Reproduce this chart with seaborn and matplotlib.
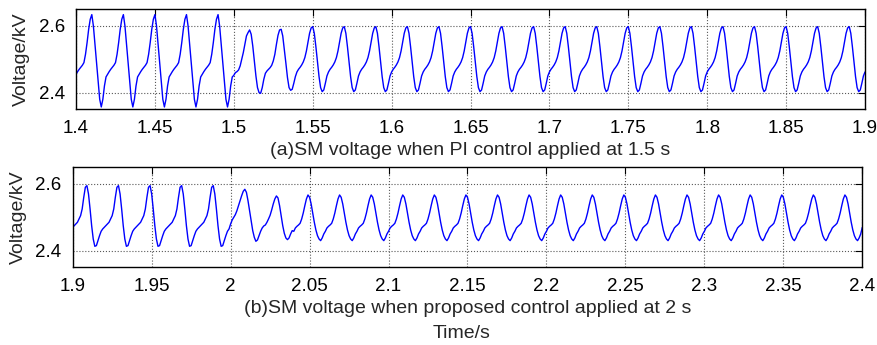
import numpy as np
import pandas as pd
import matplotlib
matplotlib.use("Agg")
import matplotlib.pyplot as plt
import seaborn as sns

# ---------------- data read from the picture (kV, sampled every 1 ms) ----------------
# one 20 ms cycle of each waveform regime
cycle_pre_a = [2.455, 2.463, 2.470, 2.476, 2.482, 2.490, 2.515, 2.550, 2.590, 2.620,
               2.634, 2.600, 2.545, 2.490, 2.435, 2.380, 2.357, 2.380, 2.420, 2.447]
cycle_t1_a = [2.452, 2.460, 2.463, 2.468, 2.480, 2.500, 2.520, 2.545, 2.570, 2.580,
              2.588, 2.575, 2.540, 2.495, 2.450, 2.415, 2.400, 2.398, 2.415, 2.440]
cycle_t2_a = [2.458, 2.465, 2.470, 2.475, 2.482, 2.495, 2.515, 2.545, 2.572, 2.588,
              2.590, 2.570, 2.530, 2.488, 2.445, 2.415, 2.407, 2.410, 2.428, 2.448]
cycle_post_a = [2.462, 2.470, 2.476, 2.483, 2.492, 2.505, 2.525, 2.552, 2.578, 2.594,
                2.598, 2.578, 2.538, 2.492, 2.448, 2.415, 2.403, 2.408, 2.428, 2.450]

cycle_pre_b = [2.470, 2.475, 2.480, 2.485, 2.495, 2.505, 2.525, 2.560, 2.590, 2.595,
               2.570, 2.525, 2.475, 2.435, 2.413, 2.415, 2.430, 2.445, 2.458, 2.465]
cycle_t1_b = [2.480, 2.492, 2.500, 2.508, 2.520, 2.535, 2.550, 2.565, 2.578, 2.584,
              2.575, 2.550, 2.520, 2.490, 2.460, 2.440, 2.428, 2.432, 2.445, 2.458]
cycle_t2_b = [2.468, 2.474, 2.477, 2.485, 2.495, 2.506, 2.522, 2.540, 2.555, 2.564,
              2.558, 2.535, 2.505, 2.475, 2.452, 2.438, 2.433, 2.438, 2.450, 2.460]
cycle_post_b = [2.458, 2.468, 2.473, 2.477, 2.482, 2.495, 2.513, 2.535, 2.555, 2.567,
                2.560, 2.540, 2.512, 2.485, 2.462, 2.445, 2.435, 2.430, 2.438, 2.450]

# sequence of cycles in each panel (cycle starts at 1.40, 1.42, ... and 1.90, 1.92, ...)
seq_a = [cycle_pre_a] * 5 + [cycle_t1_a, cycle_t2_a] + [cycle_post_a] * 18
end_a = [2.462]
seq_b = [cycle_pre_b] * 5 + [cycle_t1_b, cycle_t2_b] + [cycle_post_b] * 18
end_b = [2.470]

start_a, start_b = 1.40, 1.90
sample_step = 0.001

xticks_a = [1.4, 1.45, 1.5, 1.55, 1.6, 1.65, 1.7, 1.75, 1.8, 1.85, 1.9]
xticklabels_a = ["1.4", "1.45", "1.5", "1.55", "1.6", "1.65", "1.7", "1.75", "1.8", "1.85", "1.9"]
xticks_b = [1.9, 1.95, 2.0, 2.05, 2.1, 2.15, 2.2, 2.25, 2.3, 2.35, 2.4]
xticklabels_b = ["1.9", "1.95", "2", "2.05", "2.1", "2.15", "2.2", "2.25", "2.3", "2.35", "2.4"]
yticks = [2.4, 2.6]
yticklabels = ["2.4", "2.6"]

label_a = "(a)SM voltage when PI control applied at 1.5 s"
label_b = "(b)SM voltage when proposed control applied at 2 s"
ylabel = "Voltage/kV"
xlabel_common = "Time/s"

# ---------------- build frames ----------------
va = np.concatenate([np.array(c) for c in seq_a] + [np.array(end_a)])
vb = np.concatenate([np.array(c) for c in seq_b] + [np.array(end_b)])
ta = np.round(start_a + sample_step * np.arange(len(va)), 4)
tb = np.round(start_b + sample_step * np.arange(len(vb)), 4)
df_a = pd.DataFrame({"t": ta, "v": va})
df_b = pd.DataFrame({"t": tb, "v": vb})

# ---------------- plotting ----------------
sns.set_style("white")
plt.rcParams["font.family"] = ["Liberation Sans", "DejaVu Sans"]

fig = plt.figure(figsize=(8.78, 3.45), dpi=100)
ax1 = fig.add_axes([0.0866, 0.6832, 0.8986, 0.2899])
ax2 = fig.add_axes([0.0828, 0.2252, 0.8993, 0.2899])

for ax, df, xt, xtl, xl, lab in [
    (ax1, df_a, xticks_a, xticklabels_a, (1.4, 1.9), label_a),
    (ax2, df_b, xticks_b, xticklabels_b, (1.9, 2.4), label_b),
]:
    sns.lineplot(data=df, x="t", y="v", ax=ax, color="#0000ff", linewidth=1.0,
                 sort=False, estimator=None)
    ax.set_xlim(*xl)
    ax.set_ylim(2.35, 2.65)
    ax.set_xticks(xt)
    ax.set_xticklabels(xtl)
    ax.set_yticks(yticks)
    ax.set_yticklabels(yticklabels)
    ax.set_axisbelow(True)
    ax.grid(True, linestyle=":", color="0.35", linewidth=0.8)
    ax.tick_params(direction="in", top=True, right=True, length=5, width=0.8,
                   labelsize=13.5, pad=8, colors="black")
    for s in ax.spines.values():
        s.set_visible(True)
        s.set_color("black")
        s.set_linewidth(1.0)
    ax.set_xlabel(lab, fontsize=14, labelpad=3)
    ax.set_ylabel(ylabel, fontsize=14, labelpad=6)

fig.text(462 / 878, 1 - 333 / 345, xlabel_common, ha="center", va="center", fontsize=14)

fig.savefig("out.png", dpi=100)
